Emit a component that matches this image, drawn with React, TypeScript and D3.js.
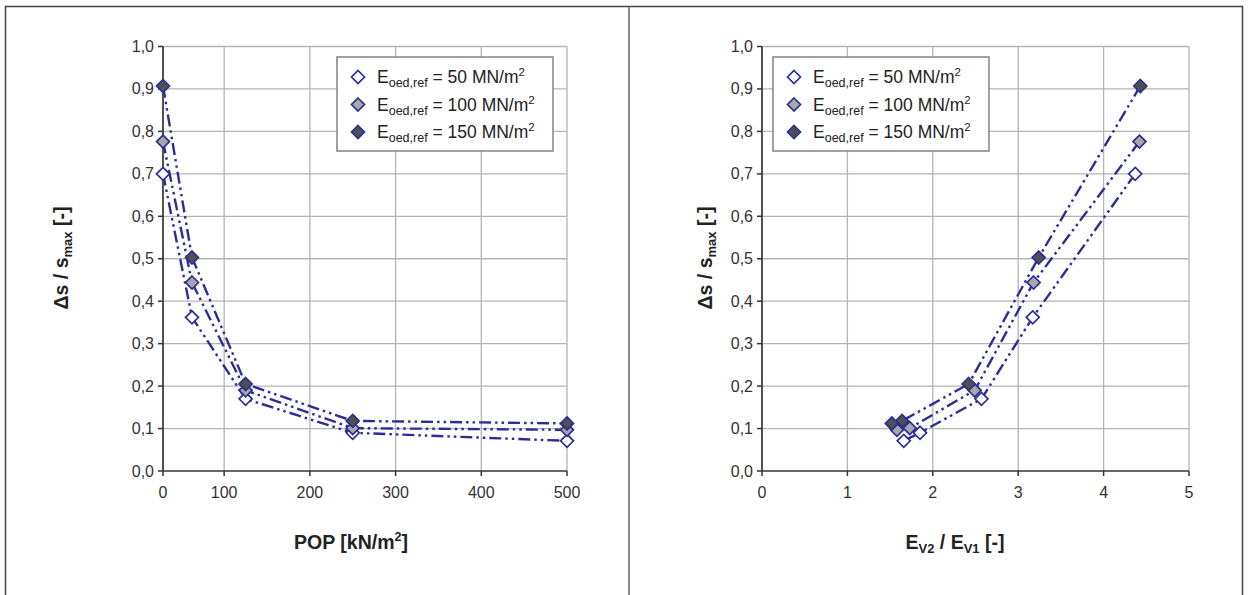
import React from "react";
import * as d3 from "d3";

const seriesNames = ["50", "100", "150"];
const popValues = [0, 62.5, 125, 250, 500];
const ratioS50 = [4.37, 3.17, 2.57, 1.85, 1.66];
const ratioS100 = [4.42, 3.18, 2.49, 1.73, 1.58];
const ratioS150 = [4.43, 3.24, 2.42, 1.64, 1.52];
const dsS50 = [0.70, 0.362, 0.17, 0.09, 0.071];
const dsS100 = [0.776, 0.444, 0.19, 0.101, 0.097];
const dsS150 = [0.907, 0.503, 0.205, 0.118, 0.112];
const yTicks = [0, 0.1, 0.2, 0.3, 0.4, 0.5, 0.6, 0.7, 0.8, 0.9, 1.0];
const popTicks = [0, 100, 200, 300, 400, 500];
const ratioTicks = [0, 1, 2, 3, 4, 5];

const FONT = "'Liberation Sans', Arial, sans-serif";
const LINE = "#2d2d95";
const fills = ["#ffffff", "#a8a8a8", "#505050"];
const dashes = ["12,4,2.5,4,2.5,4", "12,4,2.5,4,2.5,4", "12,4,2.5,4,2.5,4"];

const yScale = d3.scaleLinear().domain([0, 1]).range([471, 46.5]);
// x axis of left chart (breakpoint reproduces the reference's spacing)
const xPop = d3.scaleLinear().domain([0, 62.5, 500]).range([163, 192, 567]);
const xRatio = d3.scaleLinear().domain([0, 5]).range([762, 1189]);

const fmt = (v: number) => v.toFixed(1).replace(".", ",");

function Diamond({ x, y, fill, r = 6.5 }: { x: number; y: number; fill: string; r?: number }) {
  return (
    <path
      d={`M${x},${y - r}L${x + r},${y}L${x},${y + r}L${x - r},${y}Z`}
      fill={fill}
      stroke={LINE}
      strokeWidth={1.7}
    />
  );
}

function Panel({
  xs,
  xTicks,
  xs2,
  yLabelX,
  legendX,
  xLabel,
  xLabelX,
}: {
  xs: d3.ScaleLinear<number, number>;
  xTicks: number[];
  xs2: number[][];
  yLabelX: number;
  legendX: number;
  xLabel: React.ReactNode;
  xLabelX: number;
}) {
  const ys = [dsS50, dsS100, dsS150];
  const [x0, x1] = [xs(xTicks[0]), xs(xTicks[xTicks.length - 1])];
  const line = d3
    .line<[number, number]>()
    .x((d) => xs(d[0]))
    .y((d) => yScale(d[1]));
  return (
    <g>
      {/* grid */}
      {yTicks.slice(1).map((t) => (
        <line key={"h" + t} x1={x0} x2={x1} y1={yScale(t)} y2={yScale(t)} stroke="#b4b4b8" strokeWidth={1.3} />
      ))}
      {xTicks.slice(1).map((t) => (
        <line key={"v" + t} x1={xs(t)} x2={xs(t)} y1={yScale(0)} y2={yScale(1)} stroke="#b4b4b8" strokeWidth={1.3} />
      ))}
      {/* axes */}
      <line x1={x0} x2={x0} y1={yScale(0)} y2={yScale(1)} stroke="#333" strokeWidth={1.7} />
      <line x1={x0} x2={x1} y1={yScale(0)} y2={yScale(0)} stroke="#333" strokeWidth={1.7} />
      {yTicks.map((t) => (
        <g key={"yt" + t}>
          <line x1={x0 - 5} x2={x0} y1={yScale(t)} y2={yScale(t)} stroke="#333" strokeWidth={1.5} />
          <text x={x0 - 9} y={yScale(t) + 5.5} textAnchor="end" fontSize={16} fill="#333" fontFamily={FONT}>
            {fmt(t)}
          </text>
        </g>
      ))}
      {xTicks.map((t) => (
        <g key={"xt" + t}>
          <line x1={xs(t)} x2={xs(t)} y1={yScale(0)} y2={yScale(0) + 5} stroke="#333" strokeWidth={1.5} />
          <text x={xs(t)} y={yScale(0) + 27} textAnchor="middle" fontSize={16} fill="#333" fontFamily={FONT}>
            {t}
          </text>
        </g>
      ))}
      {/* y label */}
      <text
        transform={`translate(${yLabelX},258) rotate(-90)`}
        textAnchor="middle"
        fontSize={19.5}
        fontWeight="bold"
        fill="#222"
        fontFamily={FONT}
      >
        Δs / s<tspan fontSize={13} dy={4}>max</tspan>
        <tspan dy={-4}> [-]</tspan>
      </text>
      {/* x label */}
      <text x={xLabelX} y={549} textAnchor="middle" fontSize={19.5} fontWeight="bold" fill="#222" fontFamily={FONT}>
        {xLabel}
      </text>
      {/* series */}
      {ys.map((yv, i) => (
        <path
          key={"l" + i}
          d={line(yv.map((y, j) => [xs2[i][j], y]) as [number, number][]) || ""}
          fill="none"
          stroke={LINE}
          strokeWidth={2.4}
          strokeDasharray={dashes[i]}
        />
      ))}
      {ys.map((yv, i) =>
        yv.map((y, j) => <Diamond key={"m" + i + "_" + j} x={xs(xs2[i][j])} y={yScale(y)} fill={fills[i]} />)
      )}
      {/* legend */}
      <rect x={legendX} y={57} width={216} height={94} fill="#fff" stroke="#8a8a8a" strokeWidth={1.6} />
      {seriesNames.map((n, i) => (
        <g key={"lg" + n}>
          <Diamond x={legendX + 21} y={77 + i * 27.5} fill={fills[i]} r={6.5} />
          <text x={legendX + 40} y={83 + i * 27.5} fontSize={17.5} fill="#222" fontFamily={FONT}>
            E<tspan fontSize={12.5} dy={4}>oed,ref</tspan>
            <tspan dy={-4}> = {n} MN/m</tspan>
            <tspan fontSize={11.5} dy={-7}>2</tspan>
          </text>
        </g>
      ))}
    </g>
  );
}

export default function App() {
  const popX = [popValues, popValues, popValues];
  const ratioX = [ratioS50, ratioS100, ratioS150];
  return (
    <svg
      width={1248}
      height={595}
      style={{ position: "absolute", left: 0, top: 0, background: "#fff" }}
    >
      <rect x={0} y={0} width={1248} height={595} fill="#fff" />
      <rect x={5.5} y={6.5} width={1237} height={600} fill="none" stroke="#444" strokeWidth={1.5} />
      <line x1={629} x2={629} y1={7} y2={595} stroke="#8a8a8a" strokeWidth={2} />
      <Panel
        xs={xPop}
        xTicks={popTicks}
        xs2={popX}
        yLabelX={68}
        legendX={337}
        xLabelX={351}
        xLabel={
          <>
            POP [kN/m<tspan fontSize={12.5} dy={-8}>2</tspan>
            <tspan dy={8}>]</tspan>
          </>
        }
      />
      <Panel
        xs={xRatio}
        xTicks={ratioTicks}
        xs2={ratioX}
        yLabelX={712}
        legendX={773}
        xLabelX={955}
        xLabel={
          <>
            E<tspan fontSize={13} dy={4}>V2</tspan>
            <tspan dy={-4}> / E</tspan>
            <tspan fontSize={13} dy={4}>V1</tspan>
            <tspan dy={-4}> [-]</tspan>
          </>
        }
      />
    </svg>
  );
}
